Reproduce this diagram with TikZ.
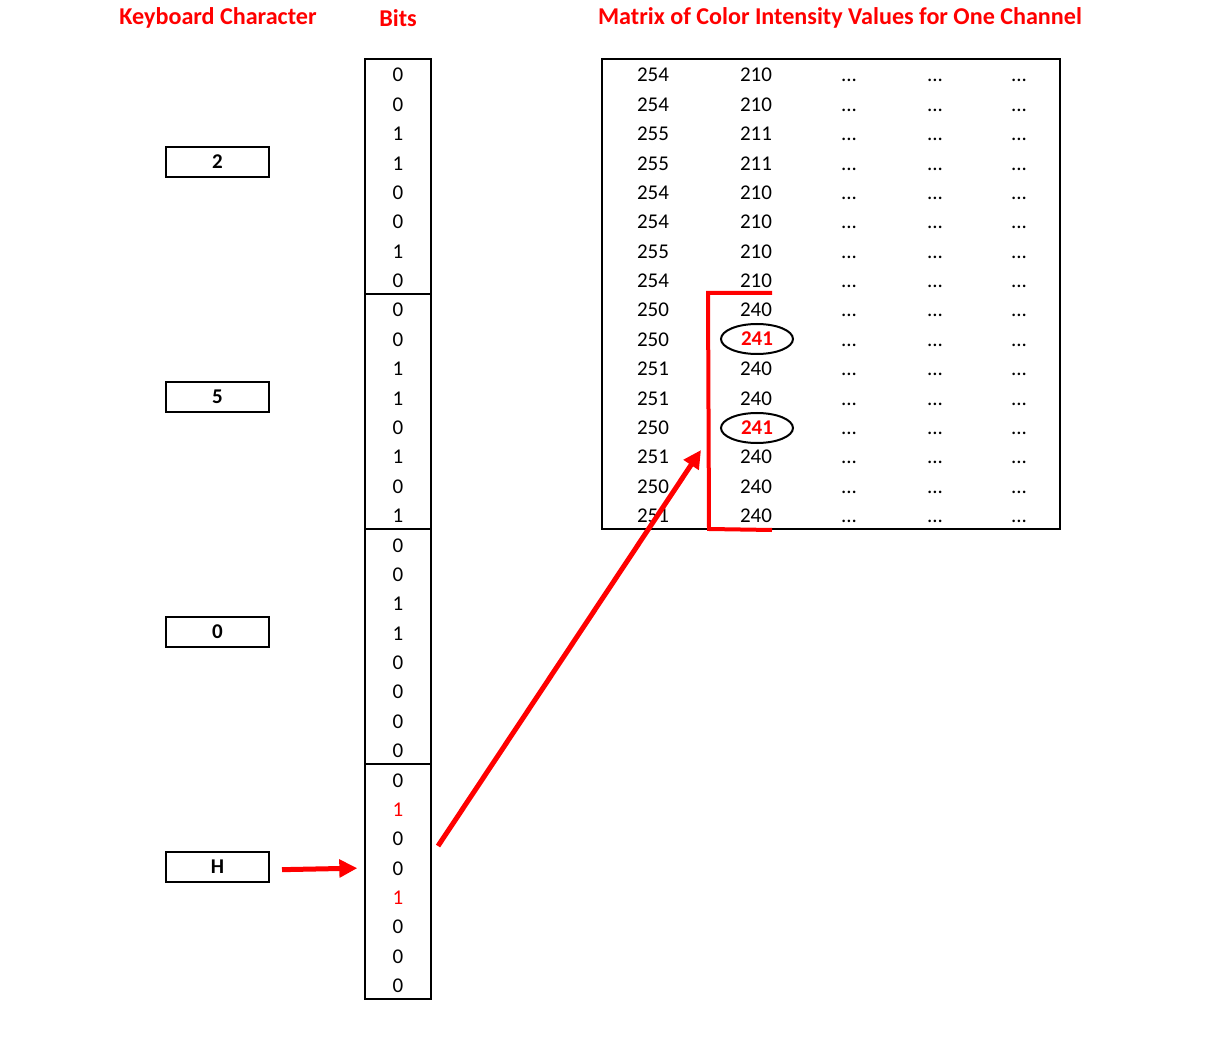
\documentclass[tikz,border=0pt]{standalone}
\usepackage{fontspec}
\setmainfont{Carlito}
\usepackage{xcolor}
\usetikzlibrary{arrows.meta,shapes.geometric}

\begin{document}
\begin{tikzpicture}[x=0.75pt,y=-0.75pt,font=\fontsize{15.75}{18}\selectfont,
    heading/.style={red,font=\fontsize{18.1}{21}\selectfont\bfseries},
    charbox/.style={draw,line width=1.5pt,minimum width=77.25pt,minimum height=22.5pt,inner sep=0pt,font=\fontsize{15.75}{18}\selectfont\bfseries},
    bitblock/.style={draw,line width=1.5pt,minimum width=49.5pt,minimum height=176.25pt,inner sep=0pt},
    val/.style={anchor=base,inner sep=0pt},
    oval/.style={ellipse,draw,line width=1.5pt,minimum width=54pt,minimum height=22.5pt,inner sep=0pt,text=red,font=\fontsize{15.75}{18}\selectfont\bfseries},
    redarrow/.style={red,line width=3.75pt,-{Triangle[length=13.5pt,width=13pt]}}]
    		\useasboundingbox (0,0) rectangle (1210,1037);
    		\node[heading] (hchar) at (218,18) {Keyboard Character};
    		\node[heading] (hbits) at (398,18) {Bits};
    		\node[heading] (hmat) at (840,18) {Matrix of Color Intensity Values for One Channel};
    		\foreach \c [count=\k from 0] in {2,5,0,H}
    			\node[charbox] (ch\k) at (217.5,162+235*\k) {\c};
    		\foreach \k in {0,...,3}
    			\node[bitblock] (blk\k) at (398,176.5+235*\k) {};
    		\foreach \b [count=\i from 0] in {0,0,1,1,0,0,1,0, 0,0,1,1,0,1,0,1, 0,0,1,1,0,0,0,0, 0,\textcolor{red}{1},0,0,\textcolor{red}{1},0,0,0}
    			\node[val] (b\i) at (398,82+29.375*\i) {\b};
    		\node[draw,line width=1.5pt,minimum width=343.5pt,minimum height=352.5pt,inner sep=0pt] (mat) at (831,294) {};
    		\foreach \v [count=\i from 0] in {254,254,255,255,254,254,255,254,250,250,251,251,250,251,250,251}
    			\node[val] (m\i) at (653,82+29.375*\i) {\v};
    		\foreach \v [count=\i from 0] in {210,210,211,211,210,210,210,210,240,X,240,240,X,240,240,240}
    			{\if X\v\else\node[val] (n\i) at (756,82+29.375*\i) {\v};\fi}
    		\node[oval] (n9) at (757,339) {241};
    		\node[oval] (n12) at (757,428) {241};
    		\foreach \x in {849,935,1019}
    			\foreach \i in {0,...,15}
    				\node[val] at (\x,82+29.375*\i) {...};
    		\draw[red,line width=3pt] (772,293) -- (708,293) -- (709,529) -- (772,530);
    		\coordinate (from) at (438,846);
    		\coordinate (to) at (701,450);
    		\draw[redarrow] ([xshift=9pt,yshift=-2pt]ch3.east) -- ([xshift=-5pt,yshift=10pt]blk3.west);
    		\draw[redarrow] (from) -- (to);
    \end{tikzpicture}
\end{document}
